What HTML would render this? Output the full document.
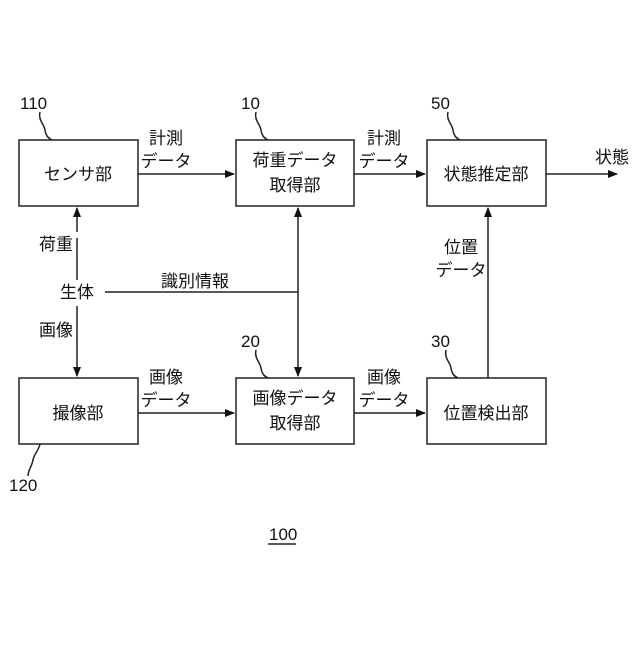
<!DOCTYPE html>
<html><head><meta charset="utf-8"><style>
body{margin:0;background:#fff}
text{font-family:"Liberation Sans","Noto Sans CJK JP",sans-serif;font-size:17px;fill:#111}
</style></head><body>
<svg width="640" height="640" viewBox="0 0 640 640" xmlns="http://www.w3.org/2000/svg">
<defs><marker id="a" markerWidth="10" markerHeight="8" refX="9" refY="4" orient="auto" markerUnits="userSpaceOnUse"><path d="M0,0 L10,4 L0,8 z" fill="#111"/></marker></defs>
<g fill="none" stroke="#222" stroke-width="1.5">
<rect x="19" y="140" width="119" height="66"/>
<rect x="236" y="140" width="118" height="66"/>
<rect x="427" y="140" width="119" height="66"/>
<rect x="19" y="378" width="119" height="66"/>
<rect x="236" y="378" width="118" height="66"/>
<rect x="427" y="378" width="119" height="66"/>
<line x1="138" y1="174" x2="234" y2="174" marker-end="url(#a)"/>
<line x1="354" y1="174" x2="425" y2="174" marker-end="url(#a)"/>
<line x1="546" y1="174" x2="617" y2="174" marker-end="url(#a)"/>
<line x1="138" y1="413" x2="234" y2="413" marker-end="url(#a)"/>
<line x1="354" y1="413" x2="425" y2="413" marker-end="url(#a)"/>
<line x1="488" y1="378" x2="488" y2="208" marker-end="url(#a)"/>
<line x1="77" y1="232" x2="77" y2="208" marker-end="url(#a)"/>
<line x1="77" y1="238" x2="77" y2="280"/>
<line x1="77" y1="306" x2="77" y2="376" marker-end="url(#a)"/>
<line x1="105" y1="292" x2="298" y2="292"/>
<line x1="298" y1="292" x2="298" y2="208" marker-end="url(#a)"/>
<line x1="298" y1="292" x2="298" y2="376" marker-end="url(#a)"/>
<path d="M40,112 C38,120 44,124 45,130 C46,136 48,138 52,140"/>
<path d="M256,112 C254,120 260,124 261,130 C262,136 264,138 268,140"/>
<path d="M448,112 C446,120 452,124 453,130 C454,136 456,138 460,140"/>
<path d="M446,350 C444,358 450,362 451,368 C452,374 454,376 458,378"/>
<path d="M256,350 C254,358 260,362 261,368 C262,374 264,376 268,378"/>
<path d="M40,444 C38,452 34,454 33,460 C32,466 28,470 28,476"/>
<line x1="268" y1="544" x2="296" y2="544"/>
</g>
<text x="20" y="109">110</text>
<text x="241" y="109">10</text>
<text x="431" y="109">50</text>
<text x="431" y="347">30</text>
<text x="241" y="347">20</text>
<text x="9" y="491">120</text>
<text x="269" y="540">100</text>
<g text-anchor="middle">
<text x="78" y="180">センサ部</text>
<text x="295" y="166">荷重データ</text>
<text x="295" y="191">取得部</text>
<text x="486" y="180">状態推定部</text>
<text x="78" y="419">撮像部</text>
<text x="295" y="404">画像データ</text>
<text x="295" y="429">取得部</text>
<text x="486" y="419">位置検出部</text>
<text x="166" y="144">計測</text>
<text x="166" y="167">データ</text>
<text x="384" y="144">計測</text>
<text x="384" y="167">データ</text>
<text x="166" y="383">画像</text>
<text x="166" y="406">データ</text>
<text x="384" y="383">画像</text>
<text x="384" y="406">データ</text>
<text x="461" y="253">位置</text>
<text x="461" y="276">データ</text>
<text x="612" y="163">状態</text>
<text x="56" y="250">荷重</text>
<text x="77" y="298">生体</text>
<text x="56" y="336">画像</text>
<text x="195" y="287">識別情報</text>
</g>
</svg>
</body></html>
